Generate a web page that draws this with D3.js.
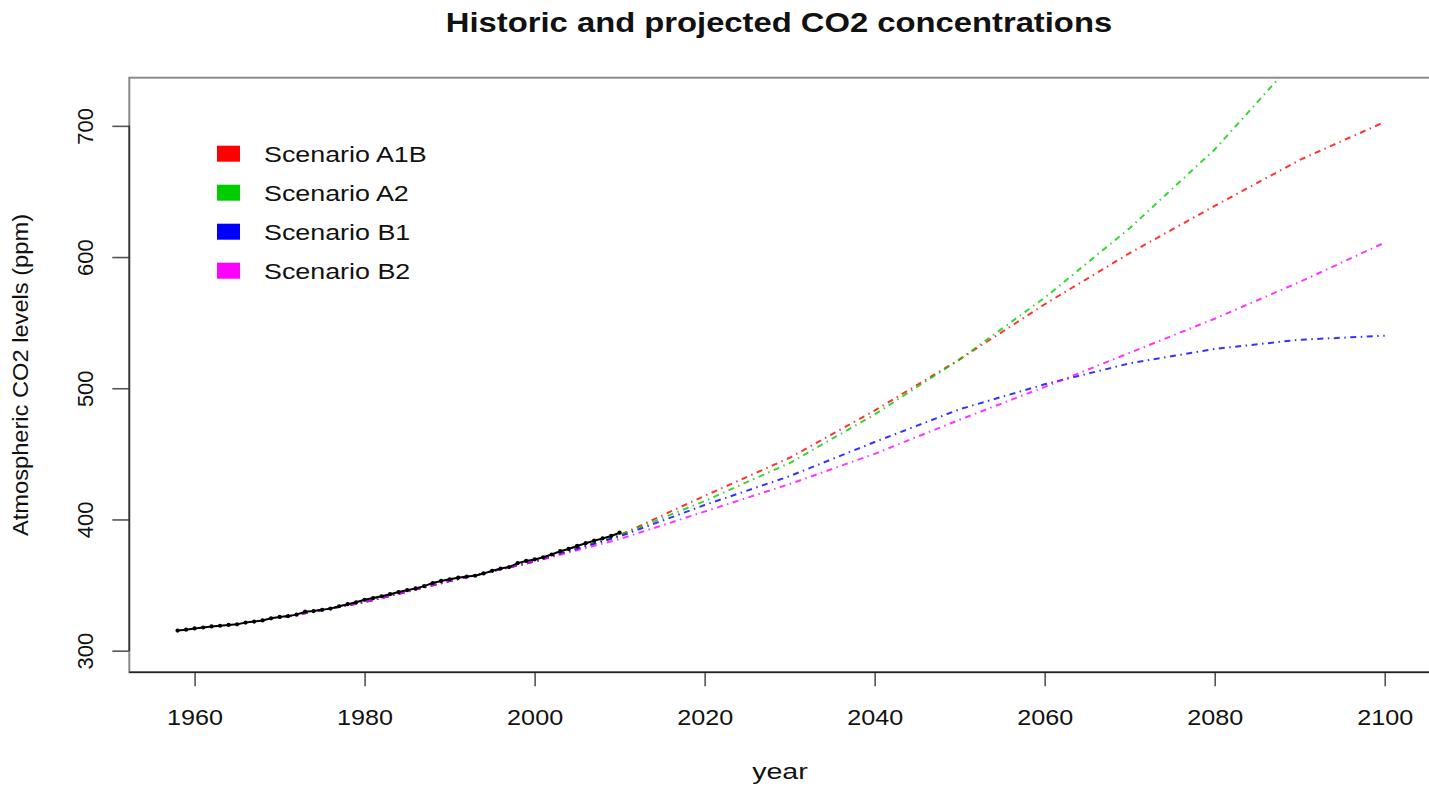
<!DOCTYPE html>
<html>
<head>
<meta charset="utf-8">
<script src="https://cdn.jsdelivr.net/npm/d3@7"></script>
<style>
  body { margin: 0; background: #fff; }
  svg { display: block; }
  text { font-family: "Liberation Sans", Arial, Helvetica, sans-serif; fill: #111; }
</style>
</head>
<body>
<svg id="chart" width="1429" height="787"></svg>
<script>
// Observed annual mean CO2 at Mauna Loa (ppm)
const histYears = [1958, 1959, 1960, 1961, 1962, 1963, 1964, 1965, 1966, 1967,
  1968, 1969, 1970, 1971, 1972, 1973, 1974, 1975, 1976, 1977, 1978, 1979, 1980,
  1981, 1982, 1983, 1984, 1985, 1986, 1987, 1988, 1989, 1990, 1991, 1992, 1993,
  1994, 1995, 1996, 1997, 1998, 1999, 2000, 2001, 2002, 2003, 2004, 2005, 2006,
  2007, 2008, 2009, 2010];
const histCO2 = [315.3, 315.97, 316.91, 317.64, 318.45, 318.99, 319.62, 320.04,
  321.38, 322.16, 323.04, 324.62, 325.68, 326.32, 327.45, 329.68, 330.18, 331.11,
  332.04, 333.83, 335.40, 336.84, 338.75, 340.11, 341.45, 343.05, 344.65, 346.12,
  347.42, 349.19, 351.57, 353.12, 354.39, 355.61, 356.45, 357.10, 358.83, 360.82,
  362.61, 363.73, 366.70, 368.38, 369.55, 371.14, 373.28, 375.80, 377.52, 379.80,
  381.90, 383.79, 385.60, 387.43, 389.90];

// SRES scenario projections (ppm), one value per decade
const scenYears = [1970, 1980, 1990, 2000, 2010, 2020, 2030, 2040, 2050, 2060,
  2070, 2080, 2090, 2100];
const scenA1B = [325, 337, 353, 368, 388, 418, 447, 483, 522, 564, 603, 639, 674, 703];
const scenA2  = [325, 337, 353, 368, 388, 414, 443, 480, 522, 569, 622, 682, 754, 836];
const scenB1  = [325, 337, 353, 368, 387, 411, 433, 459, 484, 503, 519, 530, 537, 540];
const scenB2  = [325, 337, 353, 368, 385, 406, 427, 450, 476, 501, 527, 553, 581, 611];

const scenarioNames = ["Scenario A1B", "Scenario A2", "Scenario B1", "Scenario B2"];
const scenarioValues = [scenA1B, scenA2, scenB1, scenB2];
const scenarioColors = ["#ff0000", "#00cd00", "#0000ff", "#ff00ff"];

const xTicks = [1960, 1980, 2000, 2020, 2040, 2060, 2080, 2100];
const yTicks = [300, 400, 500, 600, 700];

const titleText = "Historic and projected CO2 concentrations";
const xLabel = "year";
const yLabel = "Atmospheric CO2 levels (ppm)";

// ---- layout ----
const svg = d3.select("#chart");
const plot = { left: 129.3, right: 1433, top: 77.7, bottom: 672.3 };

const x = d3.scaleLinear().domain([1952.32, 2105.68]).range([plot.left, plot.right]);
const y = d3.scaleLinear().domain([283.5, 736.7]).range([plot.bottom, plot.top]);

// stretch a horizontal text element to a given width factor
function widen(sel, k) {
  sel.each(function () {
    const n = this.getComputedTextLength();
    d3.select(this).attr("textLength", n * k).attr("lengthAdjust", "spacingAndGlyphs");
  });
}

svg.append("defs").append("clipPath").attr("id", "plotClip")
  .append("rect")
  .attr("x", plot.left).attr("y", plot.top)
  .attr("width", plot.right - plot.left).attr("height", plot.bottom - plot.top);

// ---- series ----
const line = d3.line().x(d => x(d[0])).y(d => y(d[1]));
const gLines = svg.append("g").attr("clip-path", "url(#plotClip)");

scenarioValues.forEach((vals, i) => {
  gLines.append("path")
    .datum(scenYears.map((yr, j) => [yr, vals[j]]))
    .attr("d", line)
    .attr("fill", "none")
    .attr("stroke", scenarioColors[i])
    .attr("stroke-width", 2)
    .attr("stroke-opacity", 0.8)
    .attr("stroke-dasharray", "1.5 4.5 6 4.5");
});

const histData = histYears.map((yr, j) => [yr, histCO2[j]]);
gLines.append("path")
  .datum(histData)
  .attr("d", line)
  .attr("fill", "none")
  .attr("stroke", "#000")
  .attr("stroke-width", 2);
gLines.selectAll("circle.hist").data(histData).join("circle")
  .attr("class", "hist")
  .attr("cx", d => x(d[0])).attr("cy", d => y(d[1]))
  .attr("r", 2.1).attr("fill", "#000");

// ---- frame ----
svg.append("rect")
  .attr("x", plot.left).attr("y", plot.top)
  .attr("width", plot.right - plot.left).attr("height", plot.bottom - plot.top)
  .attr("fill", "none").attr("stroke", "#8a8a8a").attr("stroke-width", 2);

// ---- axes ----
const xAxis = d3.axisBottom(x).tickValues(xTicks).tickSize(14).tickPadding(23)
  .tickFormat(d3.format("d"));
const gx = svg.append("g").attr("transform", `translate(0,${plot.bottom})`).call(xAxis);
gx.select(".domain").remove();
gx.selectAll(".tick line").attr("stroke", "#555").attr("stroke-width", 1.6);
gx.selectAll(".tick text").attr("font-size", 22).attr("fill", "#111")
  .attr("font-family", "Liberation Sans, Arial, sans-serif").attr("dy", "0.71em")
  .call(widen, 1.145);
svg.append("line")
  .attr("x1", plot.left).attr("x2", plot.right)
  .attr("y1", plot.bottom).attr("y2", plot.bottom)
  .attr("stroke", "#222").attr("stroke-width", 1.6);

const yAxis = d3.axisLeft(y).tickValues(yTicks).tickSize(17).tickFormat(d3.format("d"));
const gy = svg.append("g").attr("transform", `translate(${plot.left},0)`).call(yAxis);
gy.select(".domain").remove();
gy.selectAll(".tick line").attr("stroke", "#555").attr("stroke-width", 1.6);
gy.selectAll(".tick text")
  .attr("font-size", 22).attr("fill", "#111")
  .attr("font-family", "Liberation Sans, Arial, sans-serif")
  .attr("x", null).attr("dy", null)
  .attr("text-anchor", "middle")
  .attr("transform", `translate(${93 - plot.left},0) rotate(-90)`);
svg.append("line")
  .attr("x1", plot.left).attr("x2", plot.left)
  .attr("y1", y(yTicks[0])).attr("y2", y(yTicks[yTicks.length - 1]))
  .attr("stroke", "#333").attr("stroke-width", 1.6);

// ---- titles ----
svg.append("text")
  .attr("x", 779).attr("y", 32)
  .attr("text-anchor", "middle")
  .attr("font-size", 28).attr("font-weight", "bold")
  .text(titleText)
  .call(widen, 1.17);

svg.append("text")
  .attr("x", 780).attr("y", 779)
  .attr("text-anchor", "middle")
  .attr("font-size", 22)
  .text(xLabel)
  .call(widen, 1.3);

svg.append("text")
  .attr("transform", `translate(28,${(plot.top + plot.bottom) / 2}) rotate(-90)`)
  .attr("text-anchor", "middle")
  .attr("font-size", 22)
  .text(yLabel)
  .call(widen, 1.075);

// ---- legend ----
const legend = svg.append("g");
scenarioNames.forEach((name, i) => {
  const cy = 153.7 + i * 39;
  legend.append("rect")
    .attr("x", 217).attr("y", cy - 8)
    .attr("width", 23).attr("height", 16)
    .attr("fill", scenarioColors[i]);
  legend.append("text")
    .attr("x", 264).attr("y", cy + 7.8)
    .attr("font-size", 22)
    .text(name)
    .call(widen, 1.22);
});
</script>
</body>
</html>
